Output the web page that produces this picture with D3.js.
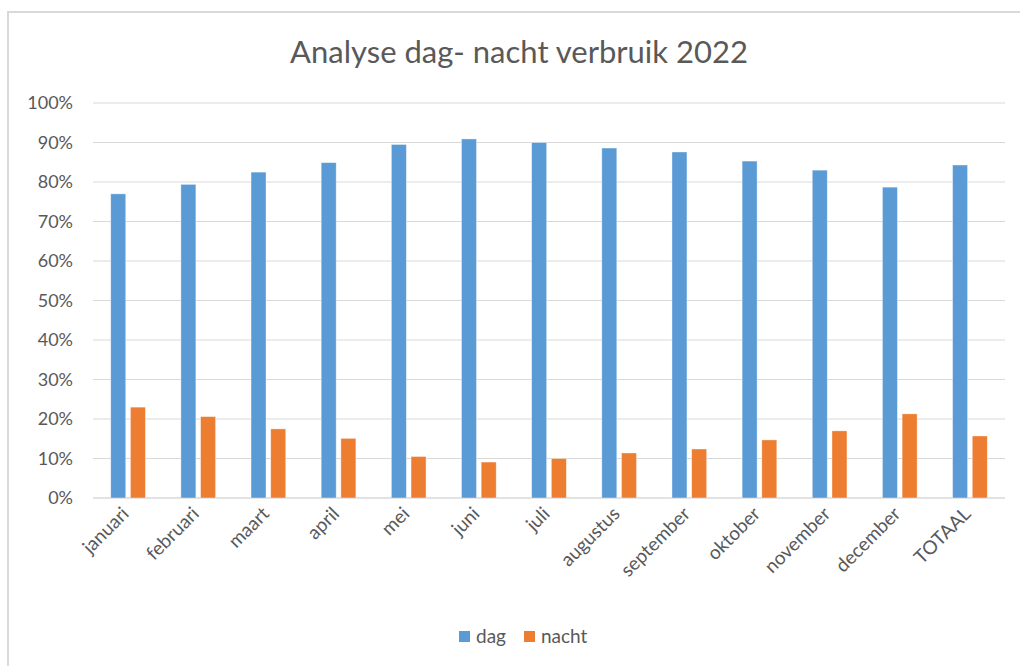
<!DOCTYPE html>
<html>
<head>
<meta charset="utf-8">
<script src="https://cdn.jsdelivr.net/npm/d3@7"></script>
<style>
  body { margin: 0; background: #fff; }
  text { font-family: Lato, "Open Sans", sans-serif; fill: #595959; }
</style>
</head>
<body>
<script>
var categories = ["januari", "februari", "maart", "april", "mei", "juni", "juli",
  "augustus", "september", "oktober", "november", "december", "TOTAAL"];
var dag = [77.0, 79.4, 82.5, 84.9, 89.5, 90.9, 90.0, 88.6, 87.6, 85.3, 83.0, 78.7, 84.3];
var nacht = [23.0, 20.6, 17.5, 15.1, 10.5, 9.1, 10.0, 11.4, 12.4, 14.7, 17.0, 21.3, 15.7];
var yTicks = [0, 10, 20, 30, 40, 50, 60, 70, 80, 90, 100];
var seriesNames = ["dag", "nacht"];
var colors = ["#5B9BD5", "#ED7D31"];

var width = 1020,
  height = 666,
  plotLeft = 93,
  plotRight = 1005,
  plotTop = 103,
  plotBottom = 498

var svg = d3.select("body").append("svg")
  .attr("width", width)
  .attr("height", height)

// chart frame
svg.append("path")
  .attr("d", "M8,700 L8,12 L1030,12")
  .attr("fill", "none")
  .attr("stroke", "#D9D9D9")
  .attr("stroke-width", 2)

svg.append("text")
  .attr("x", 519)
  .attr("y", 63)
  .attr("text-anchor", "middle")
  .style("font-size", "31px")
  .text("Analyse dag- nacht verbruik 2022")

var x = d3.scaleBand().domain(categories).range([plotLeft, plotRight]);
var y = d3.scaleLinear().domain([0, 100]).range([plotBottom, plotTop]);

var barW = 15, gap = 4.7;

svg.append("g").selectAll("line")
  .data(yTicks)
  .enter().append("line")
  .attr("x1", plotLeft).attr("x2", plotRight)
  .attr("y1", function (d) { return y(d); })
  .attr("y2", function (d) { return y(d); })
  .attr("stroke", "#D9D9D9")
  .attr("stroke-width", function (d) { return d == 0 ? 1.5 : 1.2; })

svg.append("g").selectAll("text")
  .data(yTicks)
  .enter().append("text")
  .attr("x", 73)
  .attr("y", function (d) { return y(d) + 6; })
  .attr("text-anchor", "end")
  .style("font-size", "18px")
  .text(function (d) { return d + "%"; })

var series = [dag, nacht];
series.forEach(function (vals, s) {
  svg.append("g").selectAll("rect")
    .data(vals)
    .enter().append("rect")
    .attr("x", function (d, i) {
      var c = x(categories[i]) + x.bandwidth() / 2;
      return s == 0 ? c - gap / 2 - barW : c + gap / 2;
    })
    .attr("y", function (d) { return y(d); })
    .attr("width", barW)
    .attr("height", function (d) { return plotBottom - y(d); })
    .attr("fill", colors[s])
    .attr("stroke", "#fff")
    .attr("stroke-opacity", 0.5)
    .attr("stroke-width", 0.75)
});

svg.append("g").selectAll("text")
  .data(categories)
  .enter().append("text")
  .attr("text-anchor", "end")
  .attr("transform", function (d) {
    var c = x(d) + x.bandwidth() / 2 + 2;
    return "translate(" + c + ",515) rotate(-45)";
  })
  .style("font-size", "19px")
  .text(function (d) { return d; })

// legend
var legX = [459, 524];
seriesNames.forEach(function (n, i) {
  svg.append("rect")
    .attr("x", legX[i]).attr("y", 631)
    .attr("width", 11).attr("height", 11)
    .attr("fill", colors[i])
  svg.append("text")
    .attr("x", legX[i] + 17).attr("y", 643)
    .style("font-size", "19px")
    .text(n)
});
</script>
</body>
</html>
